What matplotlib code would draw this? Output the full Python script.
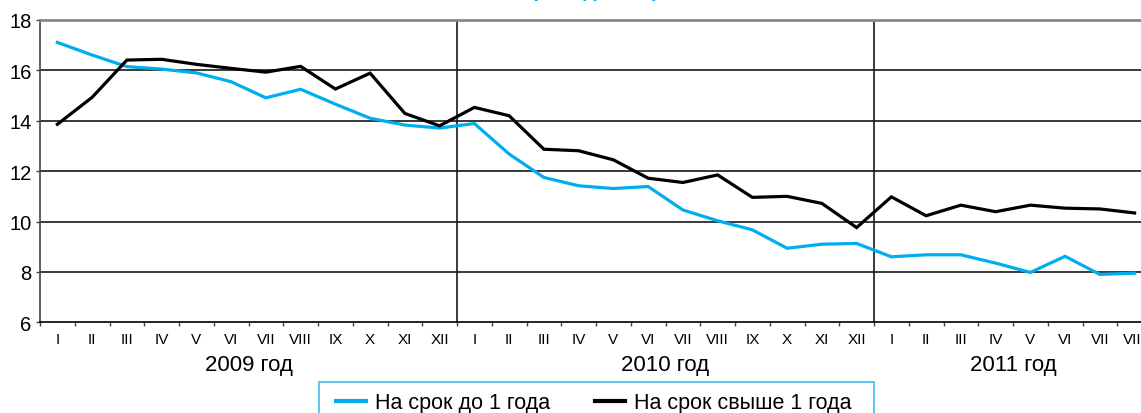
import matplotlib
matplotlib.use('Agg')
import matplotlib.pyplot as plt
from matplotlib.patches import Rectangle

plt.rcParams['font.family'] = ['Liberation Sans', 'DejaVu Sans']

months = ['I', 'II', 'III', 'IV', 'V', 'VI', 'VII', 'VIII', 'IX', 'X', 'XI', 'XII']
years = ['2009 год', '2010 год', '2011 год']
months_2011 = 8

# % годовых, январь 2009 - август 2011
short_term = [17.11, 16.61, 16.15, 16.05, 15.90, 15.55, 14.91, 15.25, 14.66, 14.10, 13.83, 13.71,
              13.89, 12.68, 11.75, 11.42, 11.31, 11.39, 10.46, 10.03, 9.67, 8.94, 9.10, 9.13,
              8.60, 8.68, 8.68, 8.35, 7.98, 8.62, 7.90, 7.95]
long_term = [13.86, 14.93, 16.41, 16.44, 16.24, 16.08, 15.93, 16.16, 15.26, 15.89, 14.29, 13.80,
             14.53, 14.20, 12.87, 12.81, 12.45, 11.72, 11.55, 11.85, 10.96, 11.00, 10.72, 9.76,
             10.98, 10.23, 10.65, 10.39, 10.65, 10.53, 10.50, 10.34]
series_names = ['На срок до 1 года', 'На срок свыше 1 года']

blue = '#00AEEF'
W, H = 1141, 414

fig = plt.figure(figsize=(W / 100, H / 100), dpi=100)
ax = fig.add_axes([40 / W, 1 - 323.3 / H, (1152 - 40) / W, (323.3 - 21) / H])

n = len(short_term)
x = [i + 0.5 for i in range(n)]
ax.plot(x, short_term, color=blue, lw=2.3, solid_joinstyle='miter', label=series_names[0], zorder=3)
ax.plot(x, long_term, color='black', lw=2.3, solid_joinstyle='miter', label=series_names[1], zorder=4)

ax.set_xlim(0, n)
ax.set_ylim(6, 18)
ax.set_yticks(range(6, 19, 2))
for v in range(8, 18, 2):
    ax.axhline(v, color='#2a2a2a', lw=1.3, zorder=1)
for b in (12, 24):
    ax.axvline(b, color='#1a1a1a', lw=1.2, zorder=1)

ax.spines['right'].set_visible(False)
ax.spines['top'].set_color('#888888')
ax.spines['top'].set_linewidth(2)
ax.spines['left'].set_color('#444444')
ax.spines['left'].set_linewidth(1.2)
ax.spines['bottom'].set_color('black')
ax.spines['bottom'].set_linewidth(1.2)

ax.set_xticks(range(0, n + 1))
ax.set_xticklabels([])
ax.tick_params(axis='x', which='major', length=3, width=1, color='#444444', direction='out')
ax.set_xticks(x, minor=True)
labels = (months * 3)[:n]
ax.set_xticklabels(labels, minor=True, fontsize=11)
ax.tick_params(axis='x', which='minor', length=0, pad=7)
ax.tick_params(axis='y', length=3, width=1, color='#444444', labelsize=14.5, pad=3)

counts = [12, 12, months_2011]
start = 0
for name, c in zip(years, counts):
    ax.annotate(name, xy=(start + c / 2, 0), xycoords=('data', 'axes fraction'),
                xytext=(0, -30.5), textcoords='offset points', ha='center', va='center', fontsize=16)
    start += c

# title sits above the crop, only the bottom of the brackets shows
fig.text(595 / W, 1 + 3.2 / H, '(% годовых)', color=blue, fontsize=15, fontweight='bold',
         ha='center', va='baseline')

# legend frame runs past the bottom edge
fig.patches.append(Rectangle((319 / W, -0.1), (874 - 319) / W, 0.1 + 1 - 383 / H,
                             transform=fig.transFigure, fill=False, edgecolor='#4FC3EE', lw=1.3))
leg = fig.legend(loc='center left', bbox_to_anchor=(336 / W, 1 - 404 / H),
                 ncol=2, fontsize=15.5, frameon=False, handlelength=1.4, handletextpad=0.4,
                 columnspacing=2.1, borderaxespad=0, borderpad=0)
for line in leg.get_lines():
    line.set_linewidth(3)

fig.savefig('out.png', dpi=100)
